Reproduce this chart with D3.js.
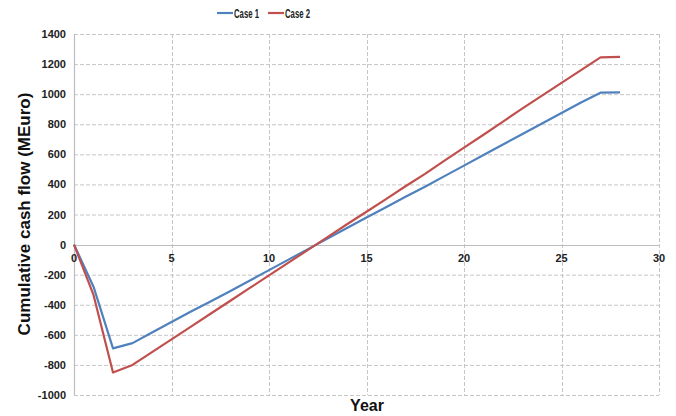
<!DOCTYPE html>
<html><head><meta charset="utf-8">
<script src="https://cdn.jsdelivr.net/npm/d3@7"></script>
<style>body{margin:0;background:#fff}</style>
</head><body>
<svg id="c" width="676" height="416"></svg>
<script>
const years = [0,1,2,3,4,5,6,7,8,9,10,11,12,13,14,15,16,17,18,19,20,21,22,23,24,25,26,27,28];
const case1 = [0,-280,-690,-655,-585,-515,-445,-378,-310,-240,-170,-100,-30,40,110,180,248,318,385,455,525,595,665,735,805,875,945,1010,1012];
const case2 = [0,-335,-850,-800,-715,-630,-545,-460,-375,-290,-205,-120,-35,50,135,218,302,388,470,558,645,730,818,905,990,1075,1160,1245,1248];
const xTicks = [0,5,10,15,20,25,30];
const yTicks = [-1000,-800,-600,-400,-200,0,200,400,600,800,1000,1200,1400];
const seriesNames = ["Case 1","Case 2"];
const colors = ["#4F81BD","#C0504D"];

const svg = d3.select("#c");
const L = 74, R = 659, T = 34, B = 395;
const x = d3.scaleLinear().domain([0,30]).range([L,R]);
const y = d3.scaleLinear().domain([-1000,1400]).range([B,T]);
const font = "Arial, 'Liberation Sans', sans-serif";

// grid
svg.append("g").selectAll("line.h").data(yTicks.filter(d=>d!==0)).join("line")
  .attr("x1",L).attr("x2",R).attr("y1",d=>y(d)+0.5).attr("y2",d=>y(d)+0.5)
  .attr("stroke","#c6c6c6").attr("stroke-dasharray","4,2");
svg.append("g").selectAll("line.v").data(xTicks.filter(d=>d!==0)).join("line")
  .attr("y1",T).attr("y2",B).attr("x1",d=>Math.round(x(d))+0.5).attr("x2",d=>Math.round(x(d))+0.5)
  .attr("stroke","#c6c6c6").attr("stroke-dasharray","4,2");

// axes lines
svg.append("line").attr("x1",L).attr("x2",R).attr("y1",Math.round(y(0))+0.5).attr("y2",Math.round(y(0))+0.5)
  .attr("stroke","#bdbdbd").attr("stroke-width",1.2);
svg.append("line").attr("x1",L+0.5).attr("x2",L+0.5).attr("y1",T).attr("y2",B)
  .attr("stroke","#bdbdbd").attr("stroke-width",1.2);

// y tick labels
svg.append("g").selectAll("text").data(yTicks).join("text")
  .attr("x",L-8).attr("y",d=>y(d)+4).attr("text-anchor","end")
  .attr("font-family",font).attr("font-weight","bold").attr("font-size",11).attr("fill","#222")
  .text(d=>d);
// x tick labels
svg.append("g").selectAll("text").data(xTicks).join("text")
  .attr("x",d=>x(d)).attr("y",y(0)+17).attr("text-anchor","middle")
  .attr("font-family",font).attr("font-weight","bold").attr("font-size",11).attr("fill","#222")
  .text(d=>d);

// lines
const line = d3.line().x((d,i)=>x(years[i])).y(d=>y(d));
[case1,case2].forEach((s,i)=>{
  svg.append("path").datum(s).attr("d",line).attr("fill","none")
    .attr("stroke",colors[i]).attr("stroke-width",2.2).attr("stroke-linejoin","round");
});

// titles
svg.append("text").attr("transform","translate(30,214) rotate(-90)").attr("text-anchor","middle")
  .attr("font-family",font).attr("font-weight","bold").attr("font-size",17).attr("fill","#111")
  .text("Cumulative cash flow (MEuro)");
svg.append("text").attr("x",367).attr("y",411).attr("text-anchor","middle")
  .attr("font-family",font).attr("font-weight","bold").attr("font-size",16).attr("fill","#111")
  .text("Year");

// legend
const lg = svg.append("g");
const lx = [217,268];
seriesNames.forEach((n,i)=>{
  lg.append("line").attr("x1",lx[i]).attr("x2",lx[i]+16).attr("y1",13).attr("y2",13)
    .attr("stroke",colors[i]).attr("stroke-width",2.2);
  lg.append("text").attr("x",lx[i]+17).attr("y",17.5).attr("font-family",font)
    .attr("font-weight","bold").attr("font-size",12).attr("fill","#222")
    .attr("textLength",25).attr("lengthAdjust","spacingAndGlyphs").text(n);
});
</script>
</body></html>
